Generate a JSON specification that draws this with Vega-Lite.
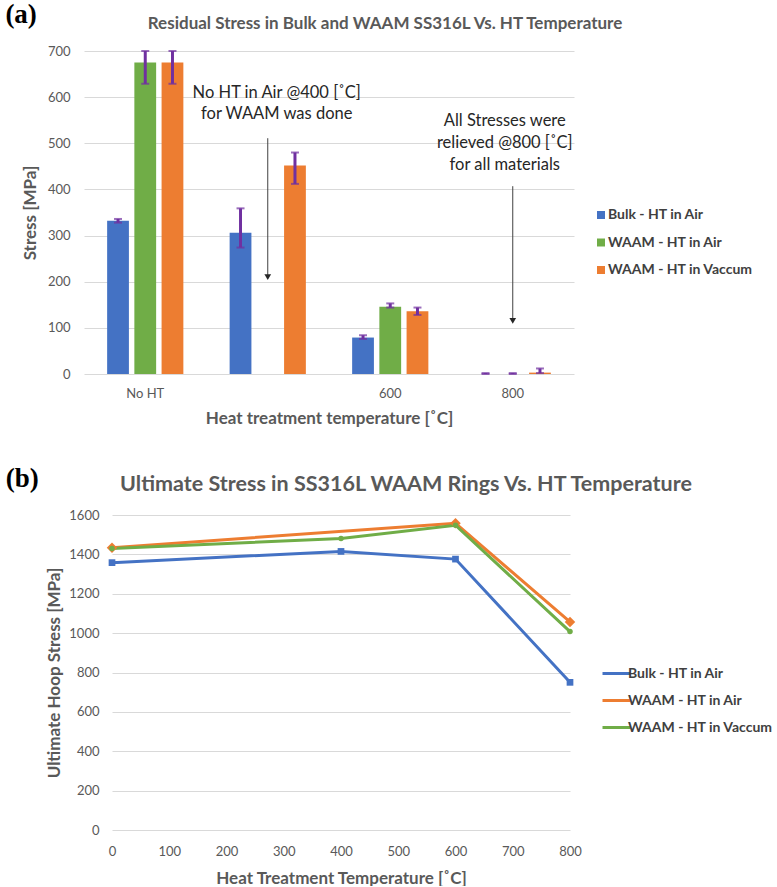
{
  "$schema": "https://vega.github.io/schema/vega-lite/v6.json",
  "background": "white",
  "padding": {"left": 5, "top": 1, "right": 0, "bottom": 0},
  "config": {
    "view": {"stroke": null},
    "font": "Lato",
    "axis": {
      "labelFont": "Lato", "labelColor": "#595959", "labelFontSize": 13,
      "titleFont": "Lato", "titleColor": "#595959", "titleFontWeight": "bold", "titleFontSize": 17,
      "gridColor": "#D9D9D9", "gridWidth": 1, "domain": false, "ticks": false, "labelOverlap": false
    },
    "axisX": {"grid": false},
    "axisY": {"grid": true},
    "legend": {"labelFont": "Lato", "labelFontWeight": "bold", "labelFontSize": 14, "labelColor": "#404040", "padding": 0}
  },
  "resolve": {
    "scale": {"color": "independent"},
    "legend": {"color": "independent"}
  },
  "columns": 1,
  "align": "none",
  "spacing": 38,
  "concat": [
    {
      "title": {"text": "(a)", "anchor": "start", "frame": "bounds", "font": "Liberation Serif", "fontSize": 27, "fontWeight": "bold", "color": "#000000", "offset": -14, "dx": -16},
      "vconcat": [
        {
          "width": 490,
          "height": 323,
          "title": {"text": "Residual Stress in Bulk and WAAM SS316L Vs. HT Temperature", "frame": "group", "anchor": "middle", "dx": 56, "font": "Lato", "fontSize": 17, "fontWeight": "bold", "color": "#595959", "offset": 12},
          "layer": [
            {
              "data": {"values": [
                {"cat": "No HT", "series": "Bulk - HT in Air", "value": 332, "lo": 328, "hi": 336},
                {"cat": "No HT", "series": "WAAM - HT in Air", "value": 675, "lo": 629, "hi": 700},
                {"cat": "No HT", "series": "WAAM - HT in Vaccum", "value": 675, "lo": 629, "hi": 700},
                {"cat": "400", "series": "Bulk - HT in Air", "value": 306, "lo": 274, "hi": 359},
                {"cat": "400", "series": "WAAM - HT in Vaccum", "value": 452, "lo": 412, "hi": 480},
                {"cat": "600", "series": "Bulk - HT in Air", "value": 79, "lo": 76, "hi": 84},
                {"cat": "600", "series": "WAAM - HT in Air", "value": 146, "lo": 144, "hi": 153},
                {"cat": "600", "series": "WAAM - HT in Vaccum", "value": 136, "lo": 128, "hi": 144},
                {"cat": "800", "series": "Bulk - HT in Air", "value": 0, "lo": 0, "hi": 2},
                {"cat": "800", "series": "WAAM - HT in Air", "value": 0, "lo": 0, "hi": 2},
                {"cat": "800", "series": "WAAM - HT in Vaccum", "value": 3, "lo": 2, "hi": 12}
              ]},
              "layer": [
                {
                  "mark": {"type": "bar"},
                  "encoding": {
                    "x": {"field": "cat", "type": "nominal", "sort": ["No HT", "400", "600", "800"], "title": "Heat treatment temperature [˚C]",
                      "scale": {"paddingInner": 0, "paddingOuter": 0},
                      "axis": {"labelAngle": 0, "labelPadding": 13, "titlePadding": 10, "labelExpr": "datum.value == '400' ? '' : datum.value"}},
                    "xOffset": {"field": "series", "type": "nominal", "sort": ["Bulk - HT in Air", "WAAM - HT in Air", "WAAM - HT in Vaccum"], "scale": {"paddingInner": 0.2, "paddingOuter": 0.85}},
                    "y": {"field": "value", "type": "quantitative", "title": "Stress [MPa]", "scale": {"domain": [0, 700], "nice": false},
                      "axis": {"values": [0, 100, 200, 300, 400, 500, 600, 700], "tickCount": 8, "labelPadding": 14, "titlePadding": 8}},
                    "color": {"field": "series", "type": "nominal",
                      "scale": {"domain": ["Bulk - HT in Air", "WAAM - HT in Air", "WAAM - HT in Vaccum"], "range": ["#4472C4", "#70AD47", "#ED7D31"]},
                      "legend": {"title": null, "orient": "none", "legendX": 510, "legendY": 157, "symbolType": "square", "symbolSize": 64, "rowPadding": 13.5, "labelOffset": 0, "symbolStrokeWidth": 0}}
                  }
                },
                {
                  "mark": {"type": "rule", "color": "#7030A0", "strokeWidth": 3},
                  "encoding": {
                    "x": {"field": "cat", "type": "nominal", "sort": ["No HT", "400", "600", "800"], "title": "Heat treatment temperature [˚C]"},
                    "xOffset": {"field": "series", "type": "nominal", "sort": ["Bulk - HT in Air", "WAAM - HT in Air", "WAAM - HT in Vaccum"]},
                    "y": {"field": "lo", "type": "quantitative", "title": "Stress [MPa]"},
                    "y2": {"field": "hi"}
                  }
                },
                {
                  "mark": {"type": "tick", "color": "#7030A0", "thickness": 2, "size": 8},
                  "encoding": {
                    "x": {"field": "cat", "type": "nominal", "sort": ["No HT", "400", "600", "800"], "title": "Heat treatment temperature [˚C]"},
                    "xOffset": {"field": "series", "type": "nominal", "sort": ["Bulk - HT in Air", "WAAM - HT in Air", "WAAM - HT in Vaccum"]},
                    "y": {"field": "lo", "type": "quantitative", "title": "Stress [MPa]"}
                  }
                },
                {
                  "mark": {"type": "tick", "color": "#7030A0", "thickness": 2, "size": 8},
                  "encoding": {
                    "x": {"field": "cat", "type": "nominal", "sort": ["No HT", "400", "600", "800"], "title": "Heat treatment temperature [˚C]"},
                    "xOffset": {"field": "series", "type": "nominal", "sort": ["Bulk - HT in Air", "WAAM - HT in Air", "WAAM - HT in Vaccum"]},
                    "y": {"field": "hi", "type": "quantitative", "title": "Stress [MPa]"}
                  }
                }
              ]
            },
            {
              "data": {"values": [
                {"cat": "400", "y1": 511, "y2": 210},
                {"cat": "800", "y1": 407, "y2": 115}
              ]},
              "layer": [
                {
                  "mark": {"type": "rule", "color": "#404040", "strokeWidth": 1},
                  "encoding": {
                    "x": {"field": "cat", "type": "nominal", "sort": ["No HT", "400", "600", "800"], "title": "Heat treatment temperature [˚C]"},
                    "y": {"field": "y1", "type": "quantitative", "title": "Stress [MPa]"},
                    "y2": {"field": "y2"}
                  }
                },
                {
                  "mark": {"type": "point", "shape": "triangle-down", "filled": true, "color": "#262626", "size": 45, "opacity": 1},
                  "encoding": {
                    "x": {"field": "cat", "type": "nominal", "sort": ["No HT", "400", "600", "800"], "title": "Heat treatment temperature [˚C]"},
                    "y": {"field": "y2", "type": "quantitative", "title": "Stress [MPa]"}
                  }
                }
              ]
            },
            {
              "data": {"values": [
                {"cat": "400", "y": 610, "note": "No HT in Air @400 [˚C]\nfor WAAM was done"}
              ]},
              "mark": {"type": "text", "font": "Lato", "fontSize": 16.5, "color": "#262626", "lineBreak": "\n", "lineHeight": 21.5, "baseline": "middle", "align": "center", "dx": 9},
              "encoding": {
                "x": {"field": "cat", "type": "nominal", "sort": ["No HT", "400", "600", "800"], "title": "Heat treatment temperature [˚C]"},
                "y": {"field": "y", "type": "quantitative", "title": "Stress [MPa]"},
                "text": {"field": "note"}
              }
            },
            {
              "data": {"values": [
                {"cat": "800", "y": 549, "note": "All Stresses were\nrelieved @800 [˚C]\nfor all materials"}
              ]},
              "mark": {"type": "text", "font": "Lato", "fontSize": 16.5, "color": "#262626", "lineBreak": "\n", "lineHeight": 22, "baseline": "middle", "align": "center", "dx": -8},
              "encoding": {
                "x": {"field": "cat", "type": "nominal", "sort": ["No HT", "400", "600", "800"], "title": "Heat treatment temperature [˚C]"},
                "y": {"field": "y", "type": "quantitative", "title": "Stress [MPa]"},
                "text": {"field": "note"}
              }
            }
          ]
        }
      ]
    },
    {
      "title": {"text": "(b)", "anchor": "start", "frame": "bounds", "font": "Liberation Serif", "fontSize": 27, "fontWeight": "bold", "color": "#000000", "offset": -19, "dx": -40},
      "vconcat": [
        {
          "width": 486,
          "height": 315,
          "title": {"text": "Ultimate Stress in SS316L WAAM Rings Vs. HT Temperature", "frame": "group", "anchor": "middle", "dx": 79, "font": "Lato", "fontSize": 21.5, "fontWeight": "bold", "color": "#595959", "offset": 14},
          "data": {"values": [
            {"series": "Bulk - HT in Air", "temp": 0, "stress": 1358},
            {"series": "Bulk - HT in Air", "temp": 400, "stress": 1415},
            {"series": "Bulk - HT in Air", "temp": 600, "stress": 1376},
            {"series": "Bulk - HT in Air", "temp": 800, "stress": 750},
            {"series": "WAAM - HT in Air", "temp": 0, "stress": 1434},
            {"series": "WAAM - HT in Air", "temp": 600, "stress": 1558},
            {"series": "WAAM - HT in Air", "temp": 800, "stress": 1057},
            {"series": "WAAM - HT in Vaccum", "temp": 0, "stress": 1430},
            {"series": "WAAM - HT in Vaccum", "temp": 400, "stress": 1481},
            {"series": "WAAM - HT in Vaccum", "temp": 600, "stress": 1548},
            {"series": "WAAM - HT in Vaccum", "temp": 800, "stress": 1008}
          ]},
          "layer": [
            {
              "mark": {"type": "line", "strokeWidth": 3},
              "encoding": {
                "x": {"field": "temp", "type": "quantitative", "title": "Heat Treatment Temperature [˚C]", "scale": {"domain": [0, 800], "nice": false, "range": [28, 486]},
                  "axis": {"values": [0, 100, 200, 300, 400, 500, 600, 700, 800], "tickCount": 9, "labelPadding": 15, "titlePadding": 12, "labelFlush": false, "format": "d"}},
                "y": {"field": "stress", "type": "quantitative", "title": "Ultimate Hoop Stress [MPa]", "scale": {"domain": [0, 1600], "nice": false},
                  "axis": {"values": [0, 200, 400, 600, 800, 1000, 1200, 1400, 1600], "tickCount": 9, "labelPadding": 13, "titlePadding": 5, "format": "d", "offset": -28}},
                "color": {"field": "series", "type": "nominal",
                  "scale": {"domain": ["Bulk - HT in Air", "WAAM - HT in Air", "WAAM - HT in Vaccum"], "range": ["#4472C4", "#ED7D31", "#70AD47"]},
                  "legend": {"title": null, "orient": "none", "legendX": 517, "legendY": 143, "symbolType": "stroke", "symbolSize": 784, "symbolStrokeWidth": 3, "rowPadding": 4, "labelOffset": -4}}
              }
            },
            {
              "transform": [{"filter": "datum.series == 'Bulk - HT in Air'"}],
              "mark": {"type": "point", "shape": "square", "filled": true, "opacity": 1, "color": "#4472C4", "size": 45},
              "encoding": {
                "x": {"field": "temp", "type": "quantitative", "title": "Heat Treatment Temperature [˚C]"},
                "y": {"field": "stress", "type": "quantitative", "title": "Ultimate Hoop Stress [MPa]"}
              }
            },
            {
              "transform": [{"filter": "datum.series == 'WAAM - HT in Air'"}],
              "mark": {"type": "point", "shape": "diamond", "filled": true, "opacity": 1, "color": "#ED7D31", "size": 110},
              "encoding": {
                "x": {"field": "temp", "type": "quantitative", "title": "Heat Treatment Temperature [˚C]"},
                "y": {"field": "stress", "type": "quantitative", "title": "Ultimate Hoop Stress [MPa]"}
              }
            },
            {
              "transform": [{"filter": "datum.series == 'WAAM - HT in Vaccum'"}],
              "mark": {"type": "point", "shape": "circle", "filled": true, "opacity": 1, "color": "#70AD47", "size": 30},
              "encoding": {
                "x": {"field": "temp", "type": "quantitative", "title": "Heat Treatment Temperature [˚C]"},
                "y": {"field": "stress", "type": "quantitative", "title": "Ultimate Hoop Stress [MPa]"}
              }
            }
          ]
        }
      ]
    }
  ]
}
